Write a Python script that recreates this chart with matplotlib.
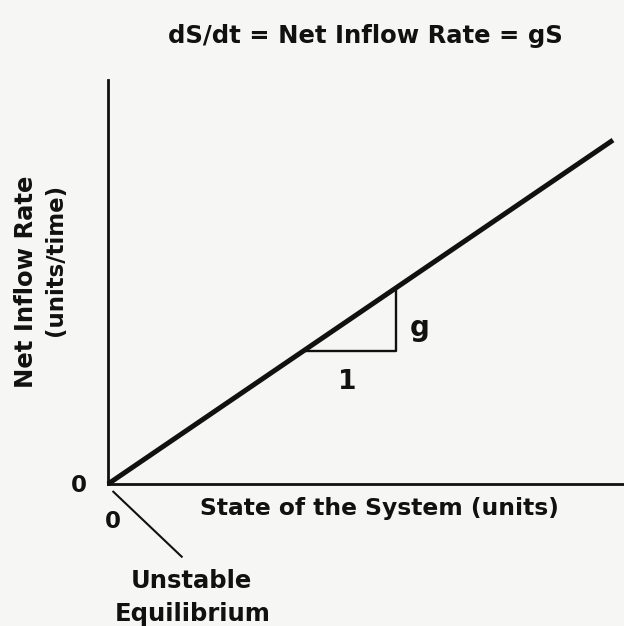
import matplotlib
matplotlib.use("Agg")
import matplotlib.pyplot as plt
import numpy as np

# Linear feedback: net inflow rate proportional to the state, slope g
g = 0.681
state = np.array([0.0, 10.0])
rate = g * state

# Slope triangle showing "1" unit of run and "g" of rise
tri_state = [3.86, 5.70]

title = "dS/dt = Net Inflow Rate = gS"
xlabel = "State of the System (units)"
ylabel_main = "Net Inflow Rate"
ylabel_units = "(units/time)"
note = ["Unstable", "Equilibrium"]

plt.rcParams["font.family"] = ["DejaVu Sans"]
bg = "#f6f6f4"
ink = "#111111"

W, H = 624, 626
fig = plt.figure(figsize=(W / 100, H / 100), dpi=100, facecolor=bg)
ox, oy = 108, 484          # origin in figure pixels
ppu = 50.5                  # pixels per data unit
ax = fig.add_axes([ox / W, 1 - oy / H, (W - ox) / W, (oy - 80) / H])
ax.set_facecolor(bg)
ax.set_xlim(0, (W - ox) / ppu)
ax.set_ylim(0, (oy - 80) / ppu)

for side in ("top", "right"):
    ax.spines[side].set_visible(False)
for side in ("left", "bottom"):
    ax.spines[side].set_linewidth(2.0)
    ax.spines[side].set_color(ink)
ax.set_xticks([])
ax.set_yticks([])


def px(x, y):
    """figure-pixel position (from top-left) to figure fraction"""
    return x / W, 1 - y / H


ax.plot(state, rate, color=ink, lw=3.6, solid_capstyle="butt", clip_on=False)

# slope triangle
x0, x1 = tri_state
ax.plot([x0, x1, x1], [g * x0, g * x0, g * x1], color=ink, lw=1.7)
fig.text(*px(420, 336), "g", fontsize=20, fontweight="bold",
         ha="center", va="baseline", color=ink)
fig.text(*px(347, 389), "1", fontsize=19, fontweight="bold",
         ha="center", va="baseline", color=ink)

# origin labels
fig.text(*px(79, 492), "0", fontsize=16.5, fontweight="bold",
         ha="center", va="baseline", color=ink)
fig.text(*px(112.5, 528), "0", fontsize=16.5, fontweight="bold",
         ha="center", va="baseline", color=ink)

# pointer to the equilibrium at the origin
fig.add_artist(plt.Line2D([113.3 / W, 181.7 / W], [1 - 491.7 / H, 1 - 556.7 / H],
                          color=ink, lw=1.5))
fig.text(*px(191, 588), note[0], fontsize=17.5, fontweight="bold",
         ha="center", va="baseline", color=ink)
fig.text(*px(192.5, 621), note[1], fontsize=17.5, fontweight="bold",
         ha="center", va="baseline", color=ink)

fig.text(*px(379, 515), xlabel, fontsize=16.8, fontweight="bold",
         ha="center", va="baseline", color=ink)
fig.text(*px(33, 282), ylabel_main, fontsize=17.5, fontweight="bold",
         ha="center", va="baseline", rotation=90, rotation_mode="anchor", color=ink)
fig.text(*px(62, 259.5), ylabel_units, fontsize=16.5, fontweight="bold",
         ha="center", va="baseline", rotation=90, rotation_mode="anchor", color=ink)

fig.text(*px(365, 43.5), title, fontsize=17.5, fontweight="bold",
         ha="center", va="baseline", color=ink)

fig.savefig("out.png", dpi=100, facecolor=bg)
